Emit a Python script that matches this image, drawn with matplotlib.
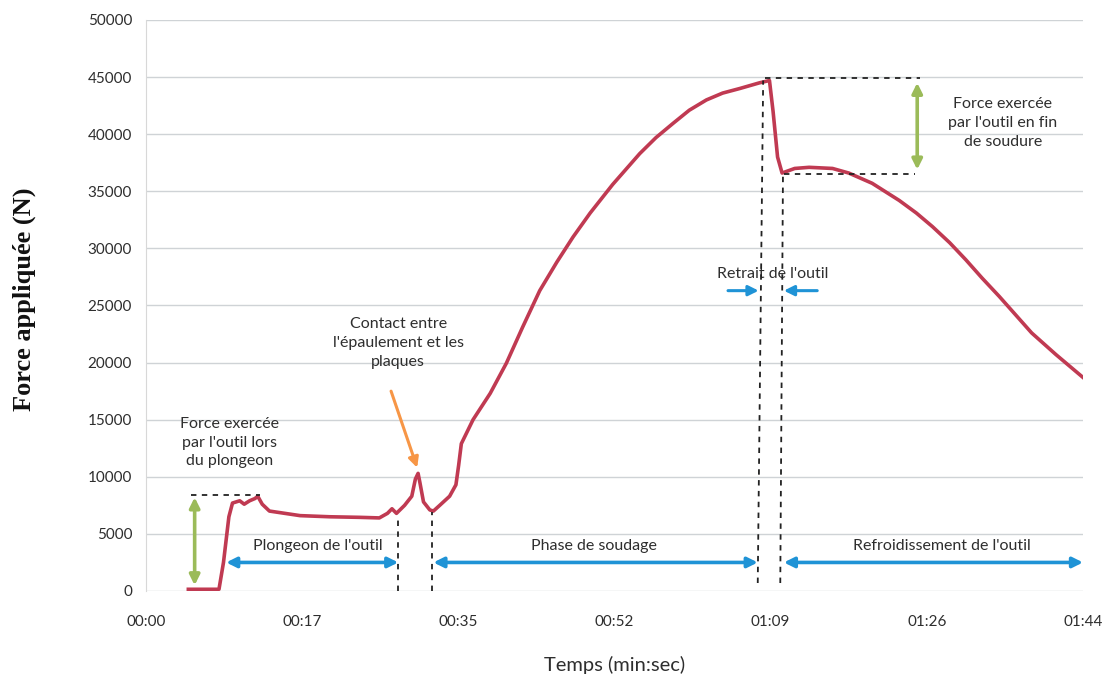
# -*- coding: utf-8 -*-
# Force appliquée pendant le soudage FSW (courbe relevée)

import numpy as np
import matplotlib
matplotlib.use("Agg")
import matplotlib.pyplot as plt

# temps en secondes, force en N
time_s = [4.7, 8.1, 8.6, 9.2, 9.6, 10.4, 10.9, 11.5, 12.1, 12.4, 12.9, 13.7,
          15.4, 17.1, 20.4, 23.7, 25.9, 26.8, 27.3, 27.8, 28.7, 29.5, 29.9,
          30.2, 30.4, 30.8, 31.5, 31.9, 32.6, 33.7, 34.4, 34.7, 35.0, 36.3,
          38.2, 40.0, 41.8, 43.7, 45.6, 47.4, 49.3, 51.8, 54.8, 56.6, 58.5,
          60.3, 62.2, 64.0, 65.9, 68.1, 69.2, 69.6, 70.1, 70.6, 72.0, 73.6,
          76.2, 78.0, 80.6, 83.6, 85.5, 87.3, 89.2, 91.0, 92.8, 94.7, 96.5,
          98.3, 101.0, 104.0]
force_n = [150, 150, 2500, 6500, 7700, 7900, 7600, 7900, 8100, 8300, 7600, 7000,
           6800, 6600, 6500, 6450, 6400, 6800, 7200, 6800, 7500, 8300, 9800,
           10300, 9500, 7800, 7100, 7000, 7500, 8300, 9300, 11000, 12900, 15000,
           17300, 19950, 23100, 26300, 28800, 31000, 33100, 35600, 38300, 39700, 40950,
           42100, 43000, 43600, 44000, 44500, 44700, 42000, 38000, 36600, 37000, 37100,
           37000, 36600, 35700, 34200, 33100, 31900, 30500, 29000, 27400, 25800, 24200,
           22600, 20700, 18700]

y_ticks = np.arange(0, 50001, 5000)
x_ticks = np.arange(7) * 104 / 6
x_labels = ["00:00", "00:17", "00:35", "00:52", "01:09", "01:26", "01:44"]

plt.rcParams['font.family'] = ['Lato', 'DejaVu Sans']

BLUE = '#1f93d6'
GREEN = '#9bbb59'
ORANGE = '#f79646'
RED = '#c03a52'
TXT = '#2e2e2e'
FS = 11.5

fig = plt.figure(figsize=(11.05, 6.87), dpi=100)
ax = fig.add_axes([146 / 1105, 1 - 591 / 687, (1083 - 146) / 1105, (591 - 20) / 687])

ax.plot(time_s, force_n, color=RED, lw=2.6, solid_joinstyle='round', zorder=3)

ax.set_xlim(0, 104)
ax.set_ylim(0, 50000)
ax.set_yticks(y_ticks)
ax.set_yticklabels([str(v) for v in y_ticks])
ax.set_xticks(x_ticks)
ax.set_xticklabels(x_labels)
ax.tick_params(length=0, labelsize=11, labelcolor=TXT, pad=10)
ax.tick_params(axis='x', pad=17)
ax.grid(axis='y', color='#cfd3d6', lw=1)
for s in ['top', 'right', 'bottom']:
    ax.spines[s].set_visible(False)
ax.spines['left'].set_color('#d8d8d8')

ax.set_xlabel("Temps (min:sec)", fontsize=14.5, color=TXT, labelpad=20)
fig.text(0.022, 0.565, "Force appliquée (N)", rotation=90, va='center', ha='center',
         fontsize=19, fontweight='bold', family='Liberation Serif', color='#111111')


def dashed(x, y):
    ax.plot(x, y, color='#222222', lw=1.3, ls=(0, (3, 3)), zorder=4)


def arrow(x0, y0, x1, y1, color, style='<|-|>', lw=2.6):
    ax.annotate('', xy=(x1, y1), xytext=(x0, y0),
                arrowprops=dict(arrowstyle=style + ',head_length=0.6,head_width=0.3',
                                color=color, lw=lw, shrinkA=0, shrinkB=0), zorder=5)


# plongeon
dashed([5.0, 12.6], [8400, 8400])
arrow(5.4, 500, 5.4, 8200, GREEN)
ax.text(9.3, 13000, "Force exercée\npar l'outil lors\ndu plongeon", ha='center', va='center',
        fontsize=FS, color=TXT, linespacing=1.45)

# phases
dashed([28.0, 28.0], [0, 6500])
dashed([31.7, 31.7], [0, 6900])
dashed([67.9, 68.5], [700, 44700])
dashed([70.4, 70.7], [700, 36600])

arrow(8.9, 2500, 28.0, 2500, BLUE)
ax.text(19.1, 3900, "Plongeon de l'outil", ha='center', va='center', fontsize=FS, color=TXT)
arrow(31.9, 2500, 67.9, 2500, BLUE)
ax.text(49.7, 3900, "Phase de soudage", ha='center', va='center', fontsize=FS, color=TXT)
arrow(70.8, 2500, 104.0, 2500, BLUE)
ax.text(88.3, 3900, "Refroidissement de l'outil", ha='center', va='center', fontsize=FS, color=TXT)

# retrait
ax.text(69.6, 27750, "Retrait de l'outil", ha='center', va='center', fontsize=FS, color=TXT)
arrow(64.6, 26300, 68.0, 26300, BLUE, style='-|>', lw=2.2)
arrow(74.5, 26300, 70.8, 26300, BLUE, style='-|>', lw=2.2)

# fin de soudure
dashed([68.7, 85.9], [44900, 44900])
dashed([70.8, 85.3], [36500, 36500])
arrow(85.6, 44500, 85.6, 36900, GREEN)
ax.text(95.1, 41000, "Force exercée\npar l'outil en fin\nde soudure", ha='center', va='center',
        fontsize=FS, color=TXT, linespacing=1.45)

# contact
ax.text(28.0, 21700, "Contact entre\nl'épaulement et les\nplaques", ha='center', va='center',
        fontsize=FS, color=TXT, linespacing=1.45)
arrow(27.2, 17500, 30.1, 10800, ORANGE, style='-|>', lw=2.2)

fig.savefig("out.png", dpi=100)
